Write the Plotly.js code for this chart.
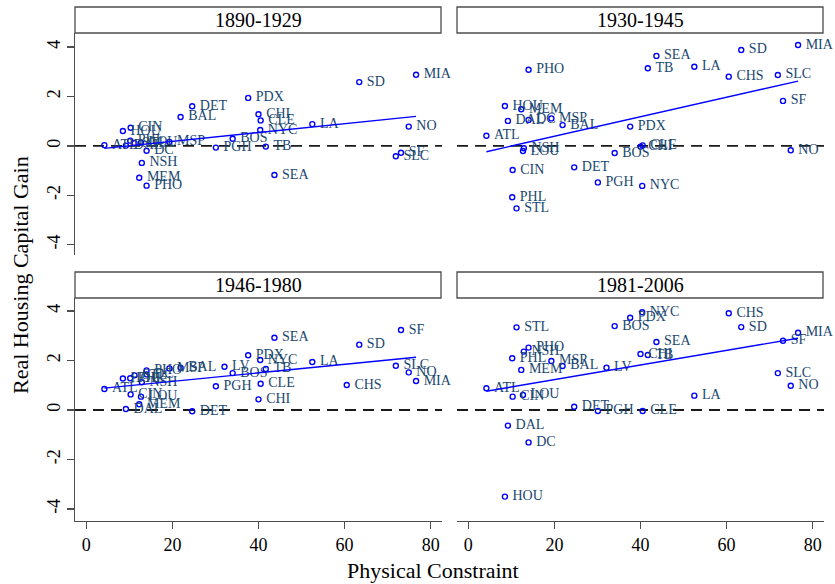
<!DOCTYPE html>
<html>
<head>
<meta charset="utf-8">
<script src="https://cdn.plot.ly/plotly-3.0.1.min.js"></script>
<style>
  html, body { margin: 0; padding: 0; background: #fff; }
  #chart { width: 835px; height: 584px; }
</style>
</head>
<body>
<div id="chart"></div>
<script>
// Metro areas and their physical constraint (share of land unavailable)
const cities = ['ATL','BAL','BOS','CHI','CHS','CIN','CLE','DAL','DC','DET','HOU','LA','LOU','LV','MEM',
                'MIA','MSP','NO','NSH','NYC','PDX','PGH','PHL','PHO','SD','SEA','SF','SLC','STL','TB'];
const constraint = [4.2, 21.9, 34.0, 40.0, 60.5, 10.3, 40.5, 9.2, 14.0, 24.6, 8.5, 52.5, 12.7, 32.1, 12.3,
                    76.6, 19.3, 74.9, 12.9, 40.4, 37.6, 30.1, 10.2, 14.0, 63.4, 43.7, 73.1, 71.9, 11.2, 41.7];

// Real housing capital gain by period (null = no data for that city)
const gain1890 = [0.03, 1.17, 0.29, 1.28, null, 0.73, 1.03, 0.01, -0.20, 1.60, 0.60, 0.88, 0.13, null, -1.29,
                  2.88, 0.16, 0.78, -0.69, 0.64, 1.94, -0.07, 0.21, -1.61, 2.58, -1.18, -0.28, -0.42, 0.11, -0.03];
const gain1930 = [0.41, 0.84, -0.29, -0.03, 2.80, -0.98, 0.02, 1.01, 1.05, -0.87, 1.61, 3.20, -0.21, null, 1.48,
                  4.08, 1.11, -0.18, -0.10, -1.62, 0.78, -1.48, -2.08, 3.08, 3.88, 3.64, 1.82, 2.87, -2.53, 3.14];
const gain1946 = [0.85, 1.71, 1.49, 0.43, 1.01, 0.63, 1.06, 0.04, 1.44, -0.05, 1.27, 1.94, 0.54, 1.75, 0.23,
                  1.17, 1.68, 1.52, 1.12, 2.02, 2.21, 0.96, 1.28, 1.60, 2.64, 2.92, 3.23, 1.79, 1.40, 1.66];
const gain1981 = [0.88, 1.78, 3.39, 2.26, 3.91, 0.54, -0.04, -0.63, -1.31, 0.13, -3.50, 0.58, 0.61, 1.71, 1.62,
                  3.12, 1.98, 0.98, 2.36, 3.95, 3.73, -0.04, 2.09, 2.52, 3.35, 2.75, 2.80, 1.49, 3.34, 2.22];

const periods = ['1890-1929', '1930-1945', '1946-1980', '1981-2006'];
const xTicks = [0, 20, 40, 60, 80];
const yTicks = [-4, -2, 0, 2, 4];
const yTickText = ['-4', '-2', '0', '2', '4'];

const W = 835, H = 584;
const SERIF = 'Liberation Serif, Times New Roman, serif';
const AXIS_COLOR = '#4d4d4d';

// panel geometry in pixels: [left, right] and plot [top, bottom], strip [top, bottom]
const panels = [
  { gain: gain1890, xs: [75, 442],  plot: [33, 255],  strip: [7, 33],    yr: [-4.417, 4.567] },
  { gain: gain1930, xs: [457, 824], plot: [33, 255],  strip: [7, 33],    yr: [-4.417, 4.567] },
  { gain: gain1946, xs: [75, 442],  plot: [298, 521], strip: [272, 298], yr: [-4.485, 4.525] },
  { gain: gain1981, xs: [457, 824], plot: [298, 521], strip: [272, 298], yr: [-4.485, 4.525] }
];

function olsFit(x, y) {
  const n = x.length;
  const mx = x.reduce((a, b) => a + b, 0) / n;
  const my = y.reduce((a, b) => a + b, 0) / n;
  let sxy = 0, sxx = 0;
  for (let i = 0; i < n; i++) { sxy += (x[i] - mx) * (y[i] - my); sxx += (x[i] - mx) * (x[i] - mx); }
  const b = sxy / sxx;
  return { a: my - b * mx, b: b };
}

const traces = [];
const shapes = [];
const annotations = [];
const layout = {
  width: W, height: H,
  margin: { l: 0, r: 0, t: 0, b: 0 },
  paper_bgcolor: '#fff', plot_bgcolor: '#fff',
  showlegend: false,
  font: { family: SERIF, color: '#000' }
};

panels.forEach((p, k) => {
  const idx = k + 1;
  const xa = idx === 1 ? 'x' : 'x' + idx;
  const ya = idx === 1 ? 'y' : 'y' + idx;
  const xKey = idx === 1 ? 'xaxis' : 'xaxis' + idx;
  const yKey = idx === 1 ? 'yaxis' : 'yaxis' + idx;
  const isBottom = k >= 2, isLeft = (k % 2 === 0);

  const xs = [], ys = [], labels = [];
  cities.forEach((c, i) => {
    if (p.gain[i] !== null) { xs.push(constraint[i]); ys.push(p.gain[i]); labels.push('\u00a0' + c); }
  });

  traces.push({
    type: 'scatter', mode: 'markers+text', x: xs, y: ys, text: labels,
    xaxis: xa, yaxis: ya, cliponaxis: false, hoverinfo: 'skip',
    textposition: 'middle right',
    textfont: { family: SERIF, size: 14, color: '#1a476f' },
    marker: { symbol: 'circle-open', size: 5, color: '#0000ff', line: { width: 1.4, color: '#0000ff' } }
  });

  const fit = olsFit(xs, ys);
  const xmin = Math.min(...xs), xmax = Math.max(...xs);
  traces.push({
    type: 'scatter', mode: 'lines', x: [xmin, xmax], y: [fit.a + fit.b * xmin, fit.a + fit.b * xmax],
    xaxis: xa, yaxis: ya, hoverinfo: 'skip',
    line: { color: '#0000ff', width: 1.4 }
  });

  layout[xKey] = {
    domain: [p.xs[0] / W, p.xs[1] / W], anchor: ya,
    range: [-2.625, 82.625], showgrid: false, zeroline: false,
    tickvals: xTicks, ticktext: xTicks.map(String),
    showline: isBottom, linecolor: AXIS_COLOR, linewidth: 1.3,
    ticks: isBottom ? 'outside' : '', ticklen: 7, tickwidth: 1.3, tickcolor: AXIS_COLOR,
    showticklabels: isBottom, tickfont: { family: SERIF, size: 18, color: '#000' }
  };
  layout[yKey] = {
    domain: [1 - p.plot[1] / H, 1 - p.plot[0] / H], anchor: xa,
    range: p.yr, showgrid: false, zeroline: false,
    tickvals: yTicks, ticktext: yTickText, tickangle: -90,
    showline: isLeft, linecolor: AXIS_COLOR, linewidth: 1.3,
    ticks: isLeft ? 'outside' : '', ticklen: 7, tickwidth: 1.3, tickcolor: AXIS_COLOR,
    showticklabels: isLeft, tickfont: { family: SERIF, size: 18, color: '#000' }
  };

  // dashed reference line at zero
  shapes.push({
    type: 'line', xref: xa + ' domain', yref: ya, x0: 0, x1: 1, y0: 0, y1: 0,
    line: { color: '#1a1a1a', width: 1.8, dash: '11px,7px' }, layer: 'below'
  });

  // period strip
  shapes.push({
    type: 'rect', xref: 'paper', yref: 'paper',
    x0: p.xs[0] / W, x1: (p.xs[1] - 1) / W, y0: 1 - p.strip[1] / H, y1: 1 - p.strip[0] / H,
    line: { color: AXIS_COLOR, width: 1.3 }, fillcolor: '#fff'
  });
  annotations.push({
    xref: 'paper', yref: 'paper', x: (p.xs[0] + p.xs[1] - 1) / 2 / W, y: 1 - (p.strip[0] + p.strip[1]) / 2 / H,
    text: periods[k], showarrow: false, xanchor: 'center', yanchor: 'middle',
    font: { family: SERIF, size: 20, color: '#000' }
  });
});

annotations.push({
  xref: 'paper', yref: 'paper', x: 21 / W, y: 1 - 275 / H, textangle: -90,
  text: 'Real Housing Capital Gain', showarrow: false, xanchor: 'center', yanchor: 'middle',
  font: { family: SERIF, size: 22, color: '#000' }
});
annotations.push({
  xref: 'paper', yref: 'paper', x: 433 / W, y: 1 - 570 / H,
  text: 'Physical Constraint', showarrow: false, xanchor: 'center', yanchor: 'middle',
  font: { family: SERIF, size: 22, color: '#000' }
});

layout.shapes = shapes;
layout.annotations = annotations;

Plotly.newPlot('chart', traces, layout, { displayModeBar: false, staticPlot: true });
</script>
</body>
</html>
